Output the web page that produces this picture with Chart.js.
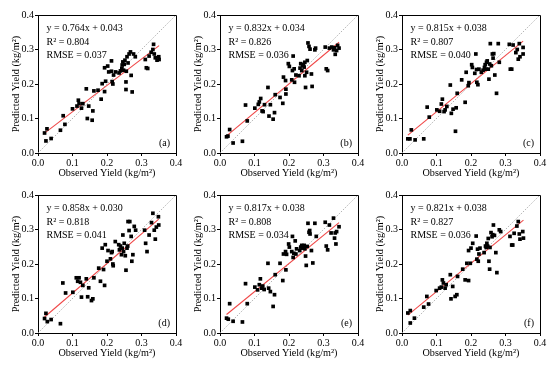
<!DOCTYPE html>
<html>
<head>
<meta charset="utf-8">
<script src="https://cdn.jsdelivr.net/npm/chart.js@4.4.1/dist/chart.umd.min.js"></script>
<style>
  html, body { margin: 0; padding: 0; background: #fff; }
  #wrap { position: relative; width: 550px; height: 365px; overflow: hidden; }
  #wrap canvas { position: absolute; }
</style>
</head>
<body>
<div id="wrap"></div>
<script>
/* Observed vs predicted yield, six model panels */

const tickVals = [0, 0.1, 0.2, 0.3, 0.4];
const panelLabels = ['(a)', '(b)', '(c)', '(d)', '(e)', '(f)'];
const slopes = [0.764, 0.832, 0.815, 0.858, 0.817, 0.821];
const intercepts = [0.043, 0.034, 0.038, 0.030, 0.038, 0.038];
const r2Values = [0.804, 0.826, 0.807, 0.818, 0.808, 0.827];
const rmseValues = [0.037, 0.036, 0.040, 0.041, 0.034, 0.036];

const obsA  = [0.019,0.026,0.023,0.038,0.065,0.073,0.078,0.100,0.113,0.117,0.119,0.126,0.130,0.140,0.143,0.147,0.157,0.159,0.162,0.174,0.183,0.186,0.193,0.193,0.196,0.202,0.205,0.213,0.213,0.215,0.217,0.219,0.225,0.235,0.239,0.243,0.244,0.246,0.248,0.250,0.252,0.256,0.255,0.255,0.258,0.261,0.264,0.268,0.270,0.273,0.277,0.282,0.311,0.314,0.318,0.322,0.328,0.333,0.335,0.337,0.340,0.345,0.350,0.351];
const predA = [0.058,0.070,0.035,0.042,0.066,0.108,0.083,0.128,0.136,0.153,0.143,0.130,0.143,0.186,0.100,0.136,0.095,0.122,0.180,0.182,0.156,0.201,0.247,0.178,0.208,0.252,0.235,0.267,0.237,0.207,0.200,0.226,0.235,0.232,0.238,0.245,0.255,0.264,0.240,0.257,0.269,0.237,0.206,0.184,0.279,0.261,0.287,0.293,0.225,0.177,0.287,0.279,0.271,0.247,0.245,0.281,0.292,0.300,0.315,0.287,0.276,0.269,0.279,0.271];

const obsB  = [0.019,0.023,0.028,0.038,0.065,0.074,0.079,0.101,0.111,0.114,0.118,0.122,0.125,0.129,0.139,0.142,0.146,0.154,0.158,0.160,0.174,0.182,0.184,0.190,0.191,0.191,0.198,0.201,0.208,0.210,0.212,0.215,0.216,0.220,0.229,0.232,0.234,0.237,0.239,0.242,0.244,0.246,0.246,0.248,0.251,0.253,0.255,0.258,0.261,0.265,0.267,0.275,0.277,0.305,0.308,0.312,0.317,0.324,0.329,0.332,0.334,0.338,0.341,0.345];
const predB = [0.047,0.049,0.068,0.029,0.034,0.139,0.093,0.130,0.141,0.148,0.158,0.122,0.120,0.140,0.190,0.107,0.140,0.098,0.117,0.169,0.161,0.144,0.220,0.210,0.185,0.171,0.259,0.251,0.212,0.239,0.281,0.244,0.205,0.226,0.224,0.246,0.259,0.239,0.253,0.256,0.249,0.263,0.224,0.190,0.234,0.268,0.319,0.309,0.301,0.229,0.193,0.299,0.304,0.307,0.244,0.239,0.304,0.307,0.299,0.305,0.286,0.297,0.312,0.304];

const obsC  = [0.017,0.023,0.027,0.038,0.063,0.073,0.079,0.101,0.109,0.114,0.117,0.122,0.125,0.130,0.140,0.143,0.148,0.155,0.157,0.160,0.173,0.183,0.186,0.192,0.194,0.202,0.204,0.211,0.214,0.216,0.217,0.220,0.223,0.230,0.235,0.239,0.241,0.243,0.245,0.247,0.250,0.252,0.254,0.256,0.259,0.262,0.264,0.266,0.269,0.274,0.279,0.282,0.311,0.314,0.318,0.322,0.330,0.334,0.337,0.340,0.342,0.351,0.351];
const predC = [0.041,0.041,0.067,0.038,0.041,0.133,0.104,0.125,0.121,0.142,0.156,0.120,0.125,0.135,0.197,0.115,0.127,0.063,0.131,0.173,0.212,0.147,0.234,0.195,0.204,0.256,0.248,0.231,0.287,0.242,0.205,0.198,0.243,0.234,0.240,0.248,0.256,0.243,0.263,0.267,0.243,0.214,0.258,0.317,0.253,0.287,0.275,0.288,0.226,0.173,0.317,0.263,0.315,0.243,0.243,0.313,0.291,0.300,0.272,0.317,0.279,0.287,0.306];

const obsD  = [0.019,0.023,0.027,0.038,0.065,0.072,0.080,0.101,0.111,0.115,0.119,0.123,0.126,0.130,0.140,0.144,0.147,0.155,0.159,0.162,0.176,0.181,0.186,0.190,0.193,0.195,0.200,0.203,0.210,0.213,0.215,0.217,0.218,0.224,0.234,0.236,0.239,0.242,0.244,0.246,0.248,0.250,0.253,0.255,0.258,0.260,0.261,0.264,0.266,0.270,0.272,0.275,0.279,0.283,0.309,0.312,0.316,0.322,0.329,0.333,0.337,0.340,0.343,0.349,0.350];
const predD = [0.042,0.057,0.033,0.039,0.027,0.145,0.116,0.118,0.160,0.150,0.160,0.147,0.104,0.138,0.157,0.105,0.131,0.094,0.099,0.160,0.188,0.150,0.246,0.184,0.138,0.256,0.208,0.239,0.215,0.233,0.236,0.200,0.195,0.265,0.256,0.241,0.252,0.227,0.246,0.284,0.236,0.260,0.224,0.182,0.246,0.252,0.323,0.297,0.323,0.280,0.208,0.227,0.309,0.298,0.298,0.260,0.236,0.284,0.320,0.347,0.298,0.272,0.307,0.337,0.313];

const obsE  = [0.019,0.024,0.028,0.038,0.065,0.074,0.079,0.101,0.109,0.114,0.117,0.121,0.124,0.128,0.139,0.141,0.146,0.154,0.158,0.160,0.174,0.182,0.184,0.190,0.191,0.193,0.199,0.201,0.208,0.210,0.212,0.214,0.218,0.220,0.222,0.231,0.234,0.237,0.239,0.241,0.244,0.246,0.248,0.250,0.253,0.255,0.258,0.260,0.261,0.265,0.269,0.275,0.279,0.305,0.308,0.312,0.317,0.322,0.329,0.332,0.334,0.336,0.338,0.345];
const predE = [0.043,0.040,0.085,0.034,0.032,0.143,0.085,0.133,0.125,0.140,0.157,0.130,0.136,0.126,0.202,0.130,0.120,0.077,0.111,0.169,0.202,0.152,0.229,0.236,0.183,0.228,0.258,0.249,0.236,0.280,0.219,0.231,0.267,0.229,0.244,0.239,0.249,0.254,0.246,0.251,0.254,0.244,0.223,0.196,0.251,0.318,0.292,0.297,0.287,0.239,0.203,0.318,0.280,0.321,0.252,0.241,0.313,0.290,0.333,0.275,0.290,0.258,0.294,0.308];

const obsF  = [0.017,0.024,0.024,0.036,0.063,0.072,0.077,0.099,0.109,0.114,0.117,0.120,0.125,0.128,0.140,0.142,0.147,0.154,0.159,0.161,0.176,0.183,0.188,0.193,0.193,0.198,0.200,0.205,0.215,0.217,0.219,0.221,0.223,0.226,0.238,0.242,0.244,0.246,0.248,0.250,0.252,0.254,0.255,0.258,0.261,0.263,0.265,0.268,0.272,0.275,0.282,0.286,0.313,0.318,0.321,0.325,0.333,0.337,0.340,0.342,0.350,0.352];
const predF = [0.058,0.065,0.029,0.043,0.075,0.106,0.084,0.123,0.130,0.133,0.154,0.145,0.130,0.140,0.169,0.099,0.135,0.106,0.111,0.164,0.185,0.154,0.202,0.239,0.152,0.202,0.246,0.260,0.281,0.214,0.243,0.208,0.229,0.246,0.233,0.252,0.248,0.260,0.252,0.274,0.208,0.185,0.248,0.291,0.279,0.285,0.313,0.283,0.233,0.175,0.299,0.294,0.280,0.255,0.255,0.289,0.310,0.323,0.287,0.272,0.294,0.275];

const observed  = [obsA, obsB, obsC, obsD, obsE, obsF];
const predicted = [predA, predB, predC, predD, predE, predF];

const SERIF = "'Liberation Serif', 'Times New Roman', serif";
const colLeft = [0, 182, 364];
const rowTop = [7, 187];
const CW = 184, CH = 178;

function pointsOf(xs, ys) {
  const n = Math.min(xs.length, ys.length);
  const out = [];
  for (let i = 0; i < n; i++) out.push({ x: xs[i], y: ys[i] });
  return out;
}

function makeAxis(title, isX) {
  return {
    type: 'linear',
    min: 0,
    max: 0.4,
    afterBuildTicks: s => { s.ticks = tickVals.map(v => ({ value: v })); },
    afterFit: s => { if (isX) s.height = 30; else s.width = 38; },
    ticks: {
      font: { family: SERIF, size: 10 },
      color: '#000',
      padding: 1,
      maxRotation: 0,
      autoSkip: false,
      callback: v => Number(v).toFixed(1)
    },
    grid: { drawOnChartArea: false, drawTicks: true, tickLength: 3, color: '#000', lineWidth: 1 },
    border: { display: true, color: '#000', width: 1 },
    title: {
      display: true,
      text: title,
      color: '#000',
      font: { family: SERIF, size: 10.2 },
      padding: isX ? { top: 0, bottom: 4 } : { top: 10, bottom: 0 }
    }
  };
}

function panelPlugin(i) {
  return {
    id: 'panel' + i,
    afterDraw(chart) {
      const a = chart.chartArea;
      const c = chart.ctx;
      c.save();
      // top and right frame
      c.strokeStyle = '#000';
      c.lineWidth = 1;
      c.beginPath();
      c.moveTo(a.left + 0.5, a.top + 0.5);
      c.lineTo(a.right + 0.5, a.top + 0.5);
      c.lineTo(a.right + 0.5, a.bottom + 0.5);
      c.stroke();
      // fit statistics
      c.fillStyle = '#000';
      c.font = '10px ' + SERIF;
      c.textBaseline = 'middle';
      c.textAlign = 'left';
      const tx = a.left + 8.5;
      c.fillText('y = ' + slopes[i].toFixed(3) + 'x + ' + intercepts[i].toFixed(3), tx, a.top + 13.5);
      c.fillText('R\u00B2 = ' + r2Values[i].toFixed(3), tx, a.top + 27);
      c.fillText('RMSE = ' + rmseValues[i].toFixed(3), tx, a.top + 40);
      c.textAlign = 'right';
      c.fillText(panelLabels[i], a.right - 6, a.bottom - 10);
      c.restore();
    }
  };
}

const wrap = document.getElementById('wrap');

for (let i = 0; i < 6; i++) {
  const xs = observed[i], ys = predicted[i];
  const x0 = Math.min(...xs), x1 = Math.max(...xs);
  const fitLine = [
    { x: x0, y: slopes[i] * x0 + intercepts[i] },
    { x: x1, y: slopes[i] * x1 + intercepts[i] }
  ];

  const cv = document.createElement('canvas');
  cv.width = CW;
  cv.height = CH;
  cv.style.width = CW + 'px';
  cv.style.height = CH + 'px';
  cv.style.left = colLeft[i % 3] + 'px';
  cv.style.top = rowTop[Math.floor(i / 3)] + 'px';
  wrap.appendChild(cv);

  new Chart(cv, {
    type: 'scatter',
    data: {
      datasets: [
        {
          data: pointsOf(xs, ys),
          pointStyle: 'rect',
          pointRadius: 2.6,
          backgroundColor: '#000',
          borderWidth: 0
        },
        {
          data: fitLine,
          showLine: true,
          borderColor: '#f04848',
          borderWidth: 1.1,
          pointRadius: 0
        },
        {
          data: [{ x: 0, y: 0 }, { x: 0.4, y: 0.4 }],
          showLine: true,
          borderColor: '#a0a0a0',
          borderWidth: 0.8,
          borderDash: [1.5, 1.5],
          pointRadius: 0
        }
      ]
    },
    options: {
      responsive: false,
      animation: false,
      events: [],
      layout: { padding: { left: 0, right: 8, top: 8, bottom: 2 } },
      scales: {
        x: makeAxis('Observed Yield (kg/m\u00B2)', true),
        y: makeAxis('Predicted Yield (kg/m\u00B2)', false)
      },
      plugins: {
        legend: { display: false },
        tooltip: { enabled: false }
      }
    },
    plugins: [panelPlugin(i)]
  });
}
</script>
</body>
</html>
